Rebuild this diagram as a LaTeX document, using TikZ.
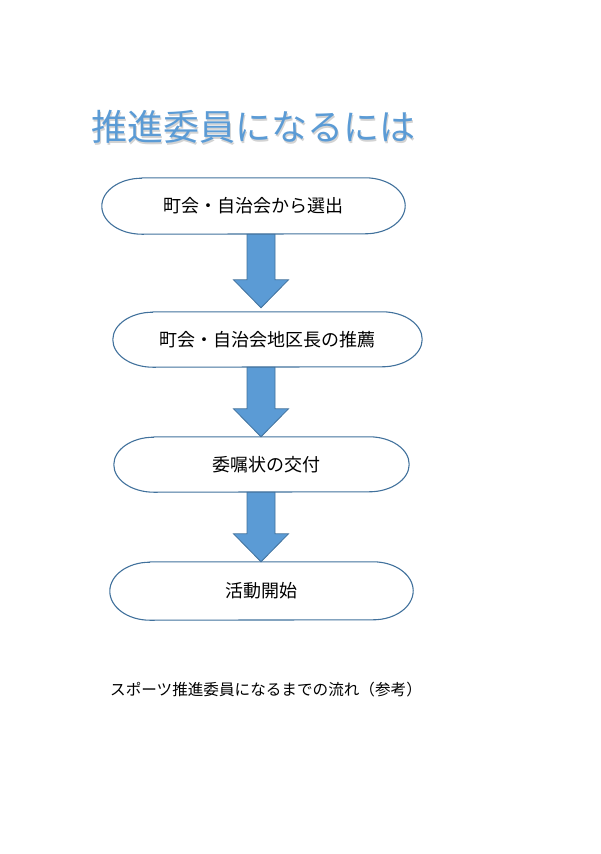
\documentclass[tikz,border=0pt]{standalone}
\usepackage{fontspec}
\newfontfamily\jpfont{Noto Sans CJK JP}
\usetikzlibrary{calc}
\definecolor{titleblue}{HTML}{5B9BD5}
\definecolor{edgeblue}{HTML}{41719C}
\tikzset{
  stepbox/.style={inner sep=0pt,font=\jpfont\fontsize{18}{18}\selectfont},
  stepline/.style={line width=1.1pt,draw=edgeblue},
  downarrow/.style={fill=titleblue,draw=edgeblue,line width=0.8pt,line join=miter}
}
\begin{document}
\begin{tikzpicture}[line cap=round,line join=round,x=1pt,y=-1pt]
\useasboundingbox (0,0) rectangle (600,854);
% title
\draw (92.5,128.5) node[anchor=west,inner sep=0pt,text=gray,opacity=0.35,font=\jpfont\fontsize{36}{36}\selectfont] {推進委員になるには};
\draw (91,127) node (title)[anchor=west,inner sep=0pt,text=titleblue,font=\jpfont\fontsize{36}{36}\selectfont] {推進委員になるには};
% steps
\node (s1)[stepbox,minimum width=303pt,minimum height=56pt] at (253.5,206) {町会・自治会から選出};
\node (s2)[stepbox,minimum width=309pt,minimum height=55pt] at (267.5,339.5) {町会・自治会地区長の推薦};
\node (s3)[stepbox,minimum width=295pt,minimum height=55pt] at (261.5,464.5) {\hspace{10pt}委嘱状の交付};
\node (s4)[stepbox,minimum width=303pt,minimum height=58pt] at (261.5,591) {活動開始};
\foreach \n/\h in {s1/28,s2/27.5,s3/27.5,s4/29}
  \draw[stepline] ([xshift=40pt]\n.north west) -- ([xshift=-40pt]\n.north east)
    arc[start angle=90,end angle=-90,x radius=40pt,y radius=\h pt]
    -- ([xshift=40pt]\n.south west)
    arc[start angle=270,end angle=90,x radius=40pt,y radius=\h pt] -- cycle;
% arrows
\coordinate (axis) at (261,0);
\foreach \u/\v/\g in {s1/s2/4,s2/s3/0,s3/s4/0} {
  \path (axis |- \u.south) coordinate (top) (axis |- \v.north) ++(0,-\g) coordinate (tip);
  \draw[downarrow] ($(top)+(-14,0)$) -- ($(top)+(14,0)$) -- ($(tip)+(14,-28)$) -- ($(tip)+(27.5,-28)$)
    -- (tip) -- ($(tip)+(-27.5,-28)$) -- ($(tip)+(-14,-28)$) -- cycle;
}
% caption
\draw (110,690) node (note)[anchor=west,inner sep=0pt,font=\jpfont\fontsize{15.6}{15.6}\selectfont] {スポーツ推進委員になるまでの流れ（参考）};
\end{tikzpicture}
\end{document}
